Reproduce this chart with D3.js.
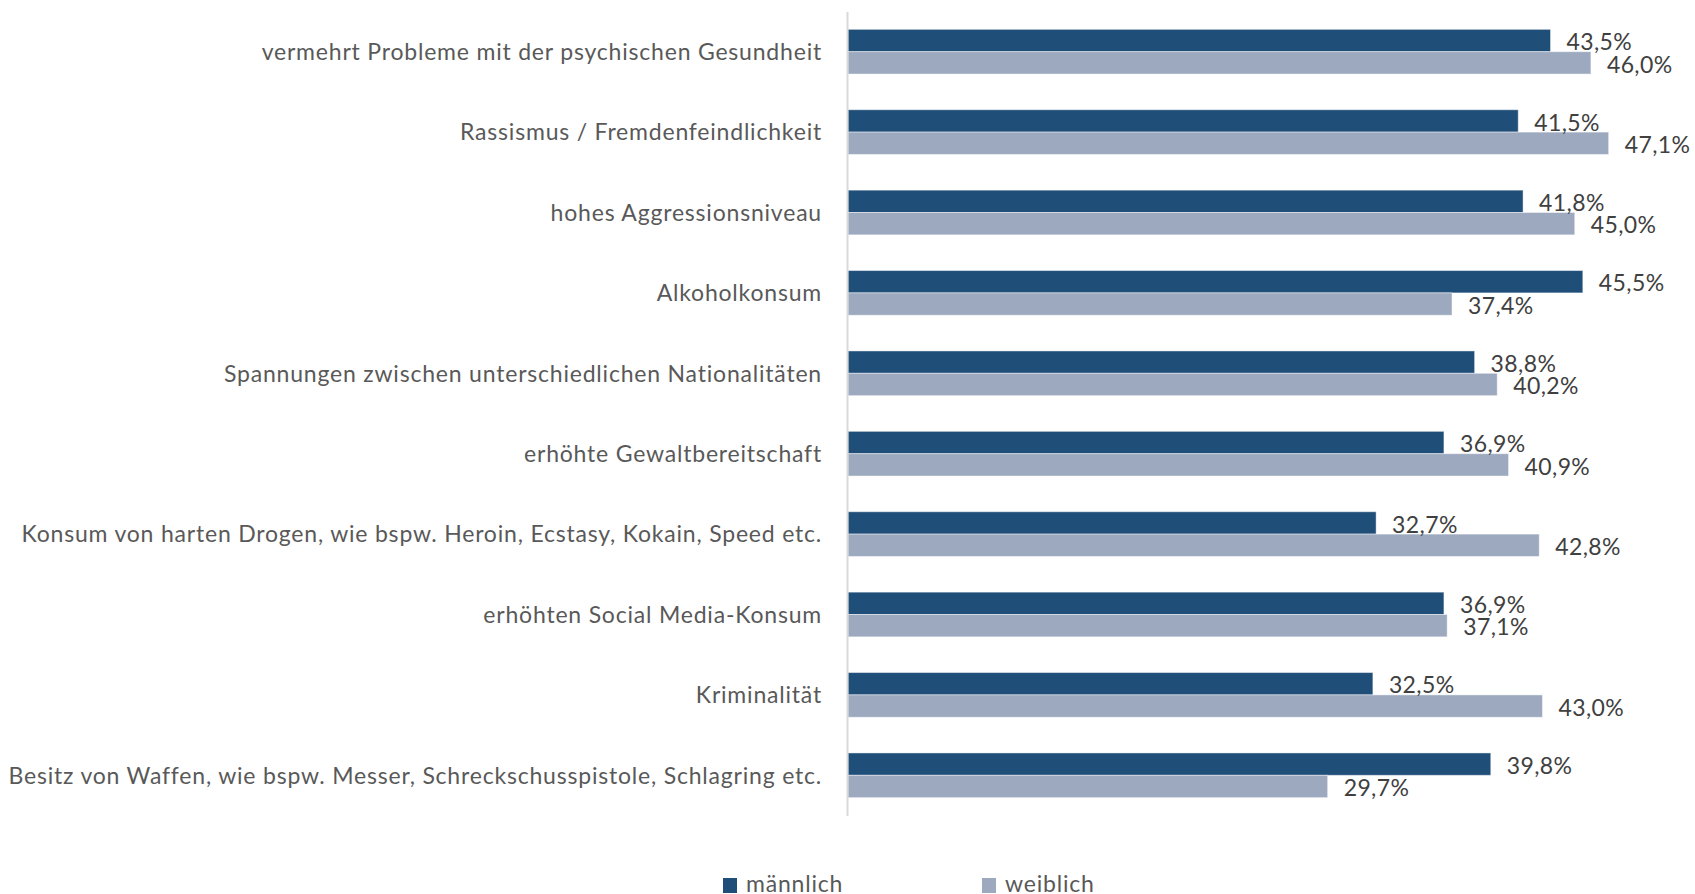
<!DOCTYPE html>
<html>
<head>
<meta charset="utf-8">
<script src="https://cdn.jsdelivr.net/npm/d3@7"></script>
<style>
  html, body { margin: 0; padding: 0; background: #ffffff; }
  svg { display: block; font-family: Lato, "Open Sans", sans-serif; }
</style>
</head>
<body>
<svg id="chart" width="1695" height="894"></svg>
<script>
// Categories (top to bottom)
const categories = [
  "vermehrt Probleme mit der psychischen Gesundheit",
  "Rassismus / Fremdenfeindlichkeit",
  "hohes Aggressionsniveau",
  "Alkoholkonsum",
  "Spannungen zwischen unterschiedlichen Nationalitäten",
  "erhöhte Gewaltbereitschaft",
  "Konsum von harten Drogen, wie bspw. Heroin, Ecstasy, Kokain, Speed etc.",
  "erhöhten Social Media-Konsum",
  "Kriminalität",
  "Besitz von Waffen, wie bspw. Messer, Schreckschusspistole, Schlagring etc."
];

// Series names and values (percent)
const seriesNames = ["männlich", "weiblich"];
const maleValues   = [43.5, 41.5, 41.8, 45.5, 38.8, 36.9, 32.7, 36.9, 32.5, 39.8];
const femaleValues = [46.0, 47.1, 45.0, 37.4, 40.2, 40.9, 42.8, 37.1, 43.0, 29.7];

const colors = { "männlich": "#1F4E79", "weiblich": "#9CA9BF" };

const rows = categories.map((c, i) => ({
  category: c,
  values: [
    { series: seriesNames[0], value: maleValues[i] },
    { series: seriesNames[1], value: femaleValues[i] }
  ]
}));

const svg = d3.select("#chart");

const x = d3.scaleLinear().domain([0, 50]).range([848, 848 + 16.15 * 50]);

const y = d3.scaleBand()
  .domain(categories)
  .range([11.5, 815.5])
  .paddingInner(0.444)
  .paddingOuter(0.222);

const ySub = d3.scaleBand()
  .domain(seriesNames)
  .range([0, y.bandwidth()])
  .padding(0);

const locale = d3.formatLocale({ decimal: ",", thousands: ".", grouping: [3], currency: ["", "€"] });
const fmt = v => locale.format(".1f")(v) + "%";

// Bars
const groups = svg.append("g")
  .selectAll("g")
  .data(rows)
  .join("g")
  .attr("transform", d => `translate(0,${y(d.category)})`);

groups.selectAll("rect")
  .data(d => d.values)
  .join("rect")
  .attr("x", x(0))
  .attr("y", d => ySub(d.series))
  .attr("width", d => x(d.value) - x(0))
  .attr("height", ySub.bandwidth())
  .attr("fill", d => colors[d.series])
  .attr("stroke", "rgba(255,255,255,0.45)")
  .attr("stroke-width", 1);

// Value labels
groups.selectAll("text")
  .data(d => d.values)
  .join("text")
  .attr("x", d => x(d.value) + 16)
  .attr("y", d => ySub(d.series) + ySub.bandwidth() / 2)
  .attr("dy", "0.42em")
  .attr("fill", "#404040")
  .style("font-size", "23px")
  .style("letter-spacing", "0.4px")
  .text(d => fmt(d.value));

// Category axis
const axis = svg.append("g")
  .attr("transform", `translate(${x(0) - 1},0)`)
  .call(d3.axisLeft(y).tickSize(0).tickSizeOuter(0).tickPadding(25));

axis.select(".domain").attr("stroke", "#d9d9d9").attr("stroke-width", 2);
axis.selectAll(".tick text")
  .attr("fill", "#595959")
  .attr("dy", "0.36em")
  .style("font-family", "Lato, 'Open Sans', sans-serif")
  .style("font-size", "23px")
  .style("letter-spacing", "0.8px");

// Legend
const legendItems = [
  { name: seriesNames[0], x: 723 },
  { name: seriesNames[1], x: 982 }
];
const legend = svg.append("g");
legend.selectAll("rect")
  .data(legendItems)
  .join("rect")
  .attr("x", d => d.x)
  .attr("y", 878)
  .attr("width", 14)
  .attr("height", 15)
  .attr("fill", d => colors[d.name]);
legend.selectAll("text")
  .data(legendItems)
  .join("text")
  .attr("x", d => d.x + 23)
  .attr("y", 892)
  .attr("fill", "#595959")
  .style("font-size", "23px")
  .style("letter-spacing", "0.8px")
  .text(d => d.name);
</script>
</body>
</html>
